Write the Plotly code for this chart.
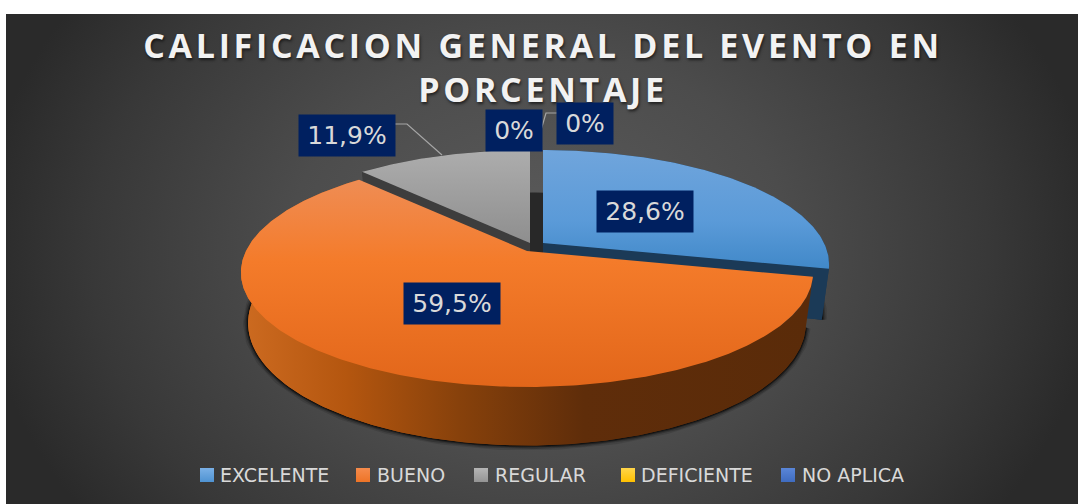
import math
import plotly.graph_objects as go

# ---- data ----
categories = ["EXCELENTE", "BUENO", "REGULAR", "DEFICIENTE", "NO APLICA"]
percent_values = [28.6, 59.5, 11.9, 0, 0]
title_text = "CALIFICACION GENERAL DEL EVENTO EN<br>PORCENTAJE"

# ---- style ----
legend_colors = ["#4f93d2", "#ee7427", "#949494", "#ffc000", "#3f6cc0"]
legend_top = ["#7ab0e6", "#f58b4c", "#b5b5b5", "#ffd54a", "#5a86d8"]
legend_swatch_x = [207, 363, 481, 628, 788]
legend_text_x = [219, 376, 494, 640, 801]
legend_y = 475
top_gradients = {
    0: (150, 270, [[0, "#70a5dc"], [0.6, "#5a9ad8"], [1, "#4088c8"]]),
    1: (178, 388, [[0, "#ef8d55"], [0.4, "#f47b2a"], [1, "#e2661a"]]),
    2: (150, 250, [[0, "#adadad"], [1, "#8c8c8c"]]),
}
wall_color = {0: "#1b3a57", 2: "#3d3d3d"}
orange_wall = [[0, "#cc6a20"], [0.18, "#b4560f"], [0.38, "#87410b"],
               [0.6, "#5f2d0a"], [1, "#5a2b09"]]
label_boxes = [(645, 211.5, 96), (452, 303.5, 96), (347, 135.5, 96),
               (513.5, 130.5, 56), (585, 123.5, 56)]

# ---- projection of the tilted pie ----
CENTERS = {0: (543, 243), 1: (527, 251), 2: (530, 243)}
B, A, K = 281.0, 110.4, 0.188
SX, SY, DROP = 0.975, 1.07, 49


def project(center, theta, bottom=False):
    t = math.radians(theta)
    u, v = math.sin(t), -math.cos(t)
    d = 1 - K * v
    x, y = B * u / d, A * v / d
    if bottom:
        x, y = x * SX, y * SY + DROP
    return center[0] + x, center[1] + y


def arc(center, a, b, bottom=False):
    n = max(2, int(abs(b - a) * 1.5))
    pts = [project(center, a + (b - a) * i / n, bottom) for i in range(n + 1)]
    return pts


def apex(center, bottom=False):
    return (center[0], center[1] + (DROP if bottom else 0))


def poly(points, **kw):
    xs = [p[0] for p in points] + [points[0][0]]
    ys = [p[1] for p in points] + [points[0][1]]
    return go.Scatter(x=xs, y=ys, mode="lines", fill="toself", line=dict(width=0),
                      hoverinfo="skip", showlegend=False, **kw)


fig = go.Figure()

# background
fig.add_trace(poly([(-20, -198), (1100, -198), (1100, 702), (-20, 702)],
                   fillgradient=dict(type="radial",
                                     colorscale=[[0, "#5c5c5c"], [0.45, "#4c4c4c"],
                                                 [0.8, "#383838"], [1, "#2a2a2a"]])))

starts, acc = [], 0.0
for v in percent_values:
    starts.append(acc * 3.6)
    acc += v
spans = [(starts[i], starts[i] + percent_values[i] * 3.6) for i in range(len(percent_values))]

# soft shadows under the lower faces
for i in (0, 1):
    a, b = spans[i]
    c = CENTERS[i]
    if i == 0:
        a, b = 80, b
    else:
        a, b = a, 290
    pts = arc(c, a, b, True)
    xs = [p[0] for p in pts]
    ys = [p[1] for p in pts]
    for w, alpha in ((10, 0.12), (7, 0.2), (4, 0.35), (2, 0.5)):
        fig.add_trace(go.Scatter(x=xs, y=ys, mode="lines",
                                 line=dict(width=w, color=f"rgba(0,0,0,{alpha})"),
                                 hoverinfo="skip", showlegend=False))

# dark gap between the two upper slices
gap_c = (536, 243)
fig.add_trace(poly([apex(gap_c, True)] + arc(gap_c, 335, 385, True), fillcolor="#282828"))

# gray and blue lower faces, outer walls and cut faces
for i in (2, 0):
    a, b = spans[i]
    c = CENTERS[i]
    col = wall_color[i]
    fig.add_trace(poly([apex(c, True)] + arc(c, a, b, True), fillcolor=col))
    fig.add_trace(poly(arc(c, a, b) + arc(c, a, b, True)[::-1], fillcolor=col))
    edge = a if i == 2 else b
    fig.add_trace(poly([apex(c), project(c, edge), project(c, edge, True), apex(c, True)],
                       fillcolor=col))

# upper faces of blue and gray
for i in (0, 2):
    a, b = spans[i]
    c = CENTERS[i]
    s, e, scale = top_gradients[i]
    fig.add_trace(poly([apex(c)] + arc(c, a, b),
                       fillgradient=dict(type="vertical", start=s, stop=e, colorscale=scale)))

# orange wall and upper face
a, b = spans[1]
c = CENTERS[1]
grad = dict(type="horizontal", start=245, stop=810, colorscale=orange_wall)
fig.add_trace(poly([apex(c, True)] + arc(c, a, b, True), fillgradient=grad))
fig.add_trace(poly(arc(c, a, b) + arc(c, a, b, True)[::-1], fillgradient=grad))
s, e, scale = top_gradients[1]
fig.add_trace(poly([apex(c)] + arc(c, a, b),
                   fillgradient=dict(type="vertical", start=s, stop=e, colorscale=scale)))

# leader lines
for xs, ys in (([395, 407, 442], [124, 124, 155]), ([541, 546, 557], [130, 113, 113])):
    fig.add_trace(go.Scatter(x=xs, y=ys, mode="lines", line=dict(width=1.2, color="#a6a6a6"),
                             hoverinfo="skip", showlegend=False))

# legend entries
for name, col, top, lx, tx in zip(categories, legend_colors, legend_top,
                                  legend_swatch_x, legend_text_x):
    fig.add_trace(go.Scatter(x=[lx], y=[legend_y], mode="markers", name=name,
                             marker=dict(symbol="square", size=14, color=top,
                                         gradient=dict(type="vertical", color=col)),
                             hoverinfo="skip", showlegend=False))
    fig.add_annotation(x=tx, y=legend_y, text=name, showarrow=False, xanchor="left",
                       borderpad=0, font=dict(family="DejaVu Sans", size=19, color="#d9d9d9"))

# labels
for v, (x, y, w) in zip(percent_values, label_boxes):
    txt = (f"{v:.1f}".replace(".", ",") if v else "0") + "%"
    fig.add_annotation(x=x, y=y, text=txt, showarrow=False, width=w, height=41,
                       bgcolor="#002060", borderpad=0, align="center", valign="middle",
                       font=dict(family="DejaVu Sans", size=25, color="#d9d9d9"))

fig.update_layout(
    width=1078, height=504, autosize=False,
    margin=dict(l=6, r=0, t=14, b=0, autoexpand=False),
    paper_bgcolor="white", plot_bgcolor="#2a2a2a",
    xaxis=dict(range=[6, 1078], visible=False, fixedrange=True),
    yaxis=dict(range=[504, 14], visible=False, fixedrange=True),
    title=dict(text=title_text, x=540 / 1078, y=1 - 45 / 504, xanchor="center", yanchor="middle",
               xref="paper", yref="paper",
               font=dict(family="Open Sans", size=34, weight="bold", color="#f2f2f2",
                         shadow="1px 2px 3px rgba(0,0,0,0.6)")),
    showlegend=False,
    hovermode=False,
)

post = ("document.body.style.margin='0';"
        "var t=document.querySelector('.gtitle'); if(t){t.style.letterSpacing='3.7px';}")
fig.write_html("out.html", post_script=post, config={"displayModeBar": False})
